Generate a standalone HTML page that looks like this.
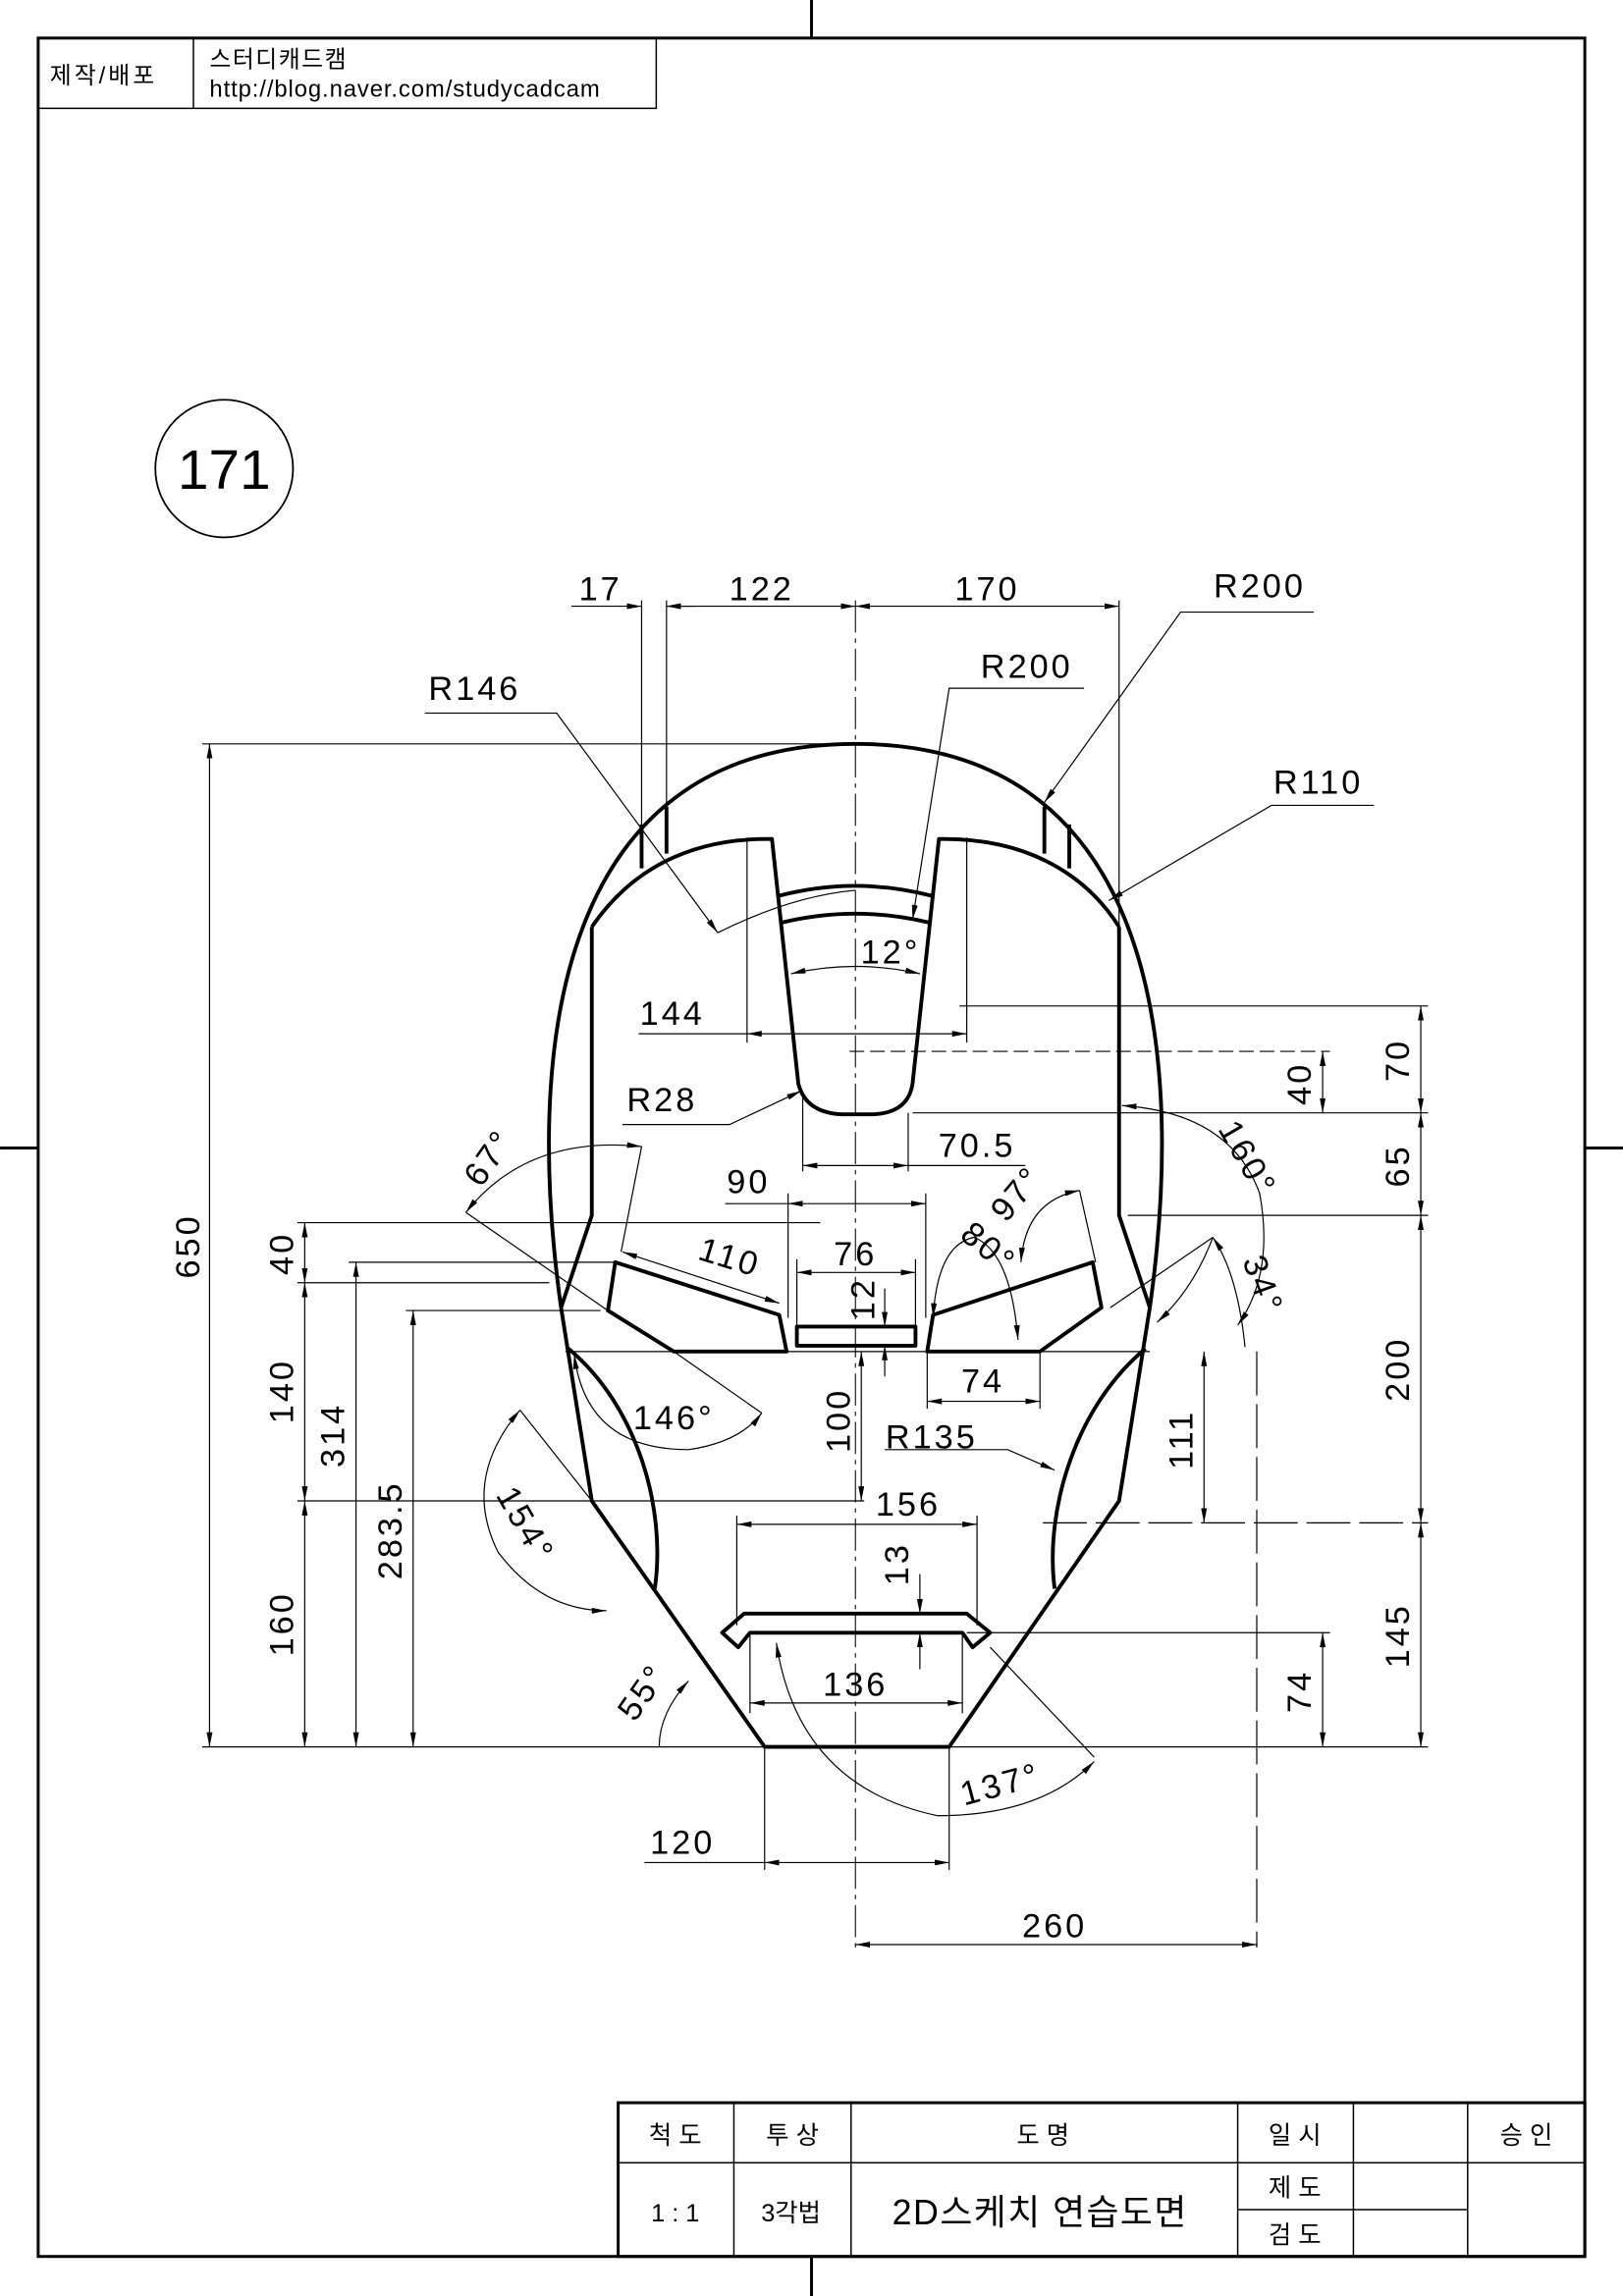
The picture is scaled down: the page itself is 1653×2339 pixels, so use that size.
<!DOCTYPE html>
<html><head><meta charset="utf-8"><style>
html,body{margin:0;padding:0;background:#fff}
svg{display:block}
text{font-family:"Liberation Sans","Noto Sans CJK KR",sans-serif;fill:#000}
</style></head><body>
<svg width="1653" height="2339" viewBox="0 0 1108 1568" xmlns="http://www.w3.org/2000/svg">
<defs>
<marker id="a" viewBox="0 0 10 4" refX="10" refY="2" markerWidth="10" markerHeight="4" orient="auto-start-reverse" markerUnits="userSpaceOnUse"><path d="M0,0 L10,2 L0,4z" fill="#000"/></marker>
</defs>
<g fill="none" stroke="#000">
<rect x="26" y="26" width="1056" height="1515" stroke-width="2"/>
<line x1="554" y1="0" x2="554" y2="26" stroke-width="2"/>
<line x1="554" y1="1541" x2="554" y2="1568" stroke-width="2"/>
<line x1="0" y1="784" x2="26" y2="784" stroke-width="2"/>
<line x1="1082" y1="784" x2="1108" y2="784" stroke-width="2"/>
<path d="M26,74 H448 V26 M132,26 V74" stroke-width="1"/>
<circle cx="153" cy="320" r="47" stroke-width="1.2"/>
<rect x="422" y="1436" width="660" height="105" stroke-width="2"/>
<path d="M422,1477 H1082 M501,1436 V1541 M581,1436 V1541 M845,1436 V1541 M924,1436 V1541 M1002,1436 V1541 M845,1509 H1002" stroke-width="1"/>

<line x1="584" y1="410" x2="584" y2="1332" stroke-width="0.7" stroke-dasharray="22,4,3,4"/>

<g stroke-width="2.6" stroke-linejoin="round">
<path d="M383,893 C356,700 388,508 584,508 C780,508 812,700 785,893"/>
<path d="M383,893 L404,1025 L522,1193 L648,1193 L764,1025 L785,893"/>
<path d="M404,633 V830 L383,893 M764,633 V830 L785,893"/>
<path d="M404,633 C430,595 470,572 527,573 L545,740 Q550,760 575,761 L596,761 Q620,760 623,740 L641,573 C698,572 740,595 764,633"/>
<path d="M438,593 V563 M455,583 V551 M713,551 V583 M730,563 V593"/>
<path d="M531,612 Q584,598 637,612 M534,630 Q584,618 634,630"/>
<path d="M388,921 C435,960 455,1030 447,1085 M782,921 C735,960 713,1030 720,1085"/>
<path d="M420,862 L532,898 L537,923 L460,923 L415,895 Z"/>
<path d="M746,862 L752,893 L710,923 L633,923 L637,898 Z"/>
<rect x="544" y="906" width="81" height="13"/>
<path d="M508,1102 L660,1102 L676,1115 L664,1125 L657,1115 L512,1115 L504,1125 L493,1115 Z"/>
</g>

<g stroke-width="0.8">
<line x1="386" y1="923" x2="785" y2="923"/>
<line x1="438" y1="410" x2="438" y2="563"/><line x1="455" y1="410" x2="455" y2="551"/>
<line x1="764" y1="410" x2="764" y2="633"/>
<line x1="390" y1="414" x2="438" y2="414" marker-end="url(#a)"/>
<line x1="475" y1="414" x2="455" y2="414" marker-end="url(#a)"/>
<line x1="455" y1="414" x2="584" y2="414" marker-start="url(#a)" marker-end="url(#a)"/>
<line x1="584" y1="414" x2="764" y2="414" marker-start="url(#a)" marker-end="url(#a)"/>
<path d="M897,418 H806 L713,548" marker-end="url(#a)"/>
<path d="M740,470 H648 L623,628" marker-end="url(#a)"/>
<path d="M290,487 H380 L490,637" marker-end="url(#a)"/>
<path d="M490,637 Q540,612 584,608"/>
<path d="M938,550 H868 L757,615" marker-end="url(#a)"/>
<line x1="510" y1="572" x2="510" y2="712"/><line x1="660" y1="572" x2="660" y2="712"/>
<line x1="436" y1="706" x2="510" y2="706"/>
<line x1="510" y1="706" x2="660" y2="706" marker-start="url(#a)" marker-end="url(#a)"/>
<path d="M540,665 Q584,655 628,665" marker-start="url(#a)" marker-end="url(#a)"/>
<line x1="655" y1="687" x2="975" y2="687"/>
<line x1="580" y1="718" x2="908" y2="718" stroke-dasharray="10,4"/>
<line x1="623" y1="760" x2="975" y2="760"/>
<line x1="770" y1="830" x2="975" y2="830"/>
<line x1="712" y1="1040" x2="975" y2="1040" stroke-dasharray="30,6"/>
<line x1="660" y1="1115" x2="908" y2="1115"/>
<line x1="648" y1="1193" x2="975" y2="1193"/>
<line x1="903" y1="718" x2="903" y2="760" marker-start="url(#a)" marker-end="url(#a)"/>
<line x1="970" y1="687" x2="970" y2="760" marker-start="url(#a)" marker-end="url(#a)"/>
<line x1="970" y1="760" x2="970" y2="830" marker-start="url(#a)" marker-end="url(#a)"/>
<line x1="970" y1="830" x2="970" y2="1040" marker-start="url(#a)" marker-end="url(#a)"/>
<line x1="970" y1="1040" x2="970" y2="1193" marker-start="url(#a)" marker-end="url(#a)"/>
<line x1="903" y1="1115" x2="903" y2="1193" marker-start="url(#a)" marker-end="url(#a)"/>
<line x1="822" y1="923" x2="822" y2="1040" marker-start="url(#a)" marker-end="url(#a)"/>
<line x1="858" y1="923" x2="858" y2="1330" stroke-dasharray="30,6"/>
<line x1="138" y1="508" x2="584" y2="508"/>
<line x1="203" y1="835" x2="560" y2="835"/>
<line x1="203" y1="876" x2="375" y2="876"/>
<line x1="238" y1="862" x2="420" y2="862"/>
<line x1="277" y1="895" x2="410" y2="895"/>
<line x1="203" y1="1025" x2="590" y2="1025"/>
<line x1="138" y1="1193" x2="522" y2="1193"/>
<line x1="143" y1="508" x2="143" y2="1193" marker-start="url(#a)" marker-end="url(#a)"/>
<line x1="208" y1="835" x2="208" y2="876" marker-start="url(#a)" marker-end="url(#a)"/>
<line x1="208" y1="876" x2="208" y2="1025" marker-start="url(#a)" marker-end="url(#a)"/>
<line x1="208" y1="1025" x2="208" y2="1193" marker-start="url(#a)" marker-end="url(#a)"/>
<line x1="243" y1="862" x2="243" y2="1193" marker-start="url(#a)" marker-end="url(#a)"/>
<line x1="282" y1="895" x2="282" y2="1193" marker-start="url(#a)" marker-end="url(#a)"/>
<path d="M425,768 H498 L547,745" marker-end="url(#a)"/>
<line x1="548" y1="750" x2="548" y2="800"/><line x1="620" y1="760" x2="620" y2="800"/>
<line x1="548" y1="796" x2="620" y2="796" marker-start="url(#a)" marker-end="url(#a)"/>
<line x1="620" y1="796" x2="700" y2="796"/>
<line x1="538" y1="815" x2="538" y2="900"/><line x1="632" y1="815" x2="632" y2="900"/>
<line x1="538" y1="822" x2="632" y2="822" marker-start="url(#a)" marker-end="url(#a)"/>
<line x1="495" y1="822" x2="538" y2="822"/>
<line x1="544" y1="869" x2="625" y2="869" marker-start="url(#a)" marker-end="url(#a)"/>
<line x1="544" y1="860" x2="544" y2="906"/><line x1="625" y1="860" x2="625" y2="906"/>
<line x1="604" y1="880" x2="604" y2="906" marker-end="url(#a)"/>
<line x1="604" y1="940" x2="604" y2="919" marker-end="url(#a)"/>
<line x1="588" y1="923" x2="588" y2="1025" marker-start="url(#a)" marker-end="url(#a)"/>
<line x1="633" y1="923" x2="633" y2="962"/><line x1="710" y1="923" x2="710" y2="962"/>
<line x1="633" y1="957" x2="710" y2="957" marker-start="url(#a)" marker-end="url(#a)"/>
<path d="M604,990 H688 L720,1004" marker-end="url(#a)"/>
<line x1="503" y1="1035" x2="503" y2="1110"/><line x1="667" y1="1035" x2="667" y2="1110"/>
<line x1="503" y1="1041" x2="667" y2="1041" marker-start="url(#a)" marker-end="url(#a)"/>
<line x1="628" y1="1075" x2="628" y2="1102" marker-end="url(#a)"/>
<line x1="628" y1="1140" x2="628" y2="1115" marker-end="url(#a)"/>
<line x1="512" y1="1115" x2="512" y2="1170"/><line x1="657" y1="1115" x2="657" y2="1170"/>
<line x1="512" y1="1163" x2="657" y2="1163" marker-start="url(#a)" marker-end="url(#a)"/>
<line x1="522" y1="1193" x2="522" y2="1277"/><line x1="648" y1="1193" x2="648" y2="1277"/>
<line x1="440" y1="1272" x2="522" y2="1272"/>
<line x1="522" y1="1272" x2="648" y2="1272" marker-start="url(#a)" marker-end="url(#a)"/>
<line x1="584" y1="1328" x2="858" y2="1328" marker-start="url(#a)" marker-end="url(#a)"/>
<path d="M318,828 Q360,775 438,783" marker-start="url(#a)" marker-end="url(#a)"/>
<line x1="438" y1="783" x2="424" y2="855"/>
<line x1="318" y1="828" x2="415" y2="895"/>
<line x1="425" y1="855" x2="532" y2="890" marker-start="url(#a)" marker-end="url(#a)"/>
<line x1="460" y1="923" x2="520" y2="965"/>
<path d="M392,925 Q400,990 470,990 Q505,985 520,965" marker-start="url(#a)" marker-end="url(#a)"/>
<path d="M355,963 Q315,1010 340,1060 Q370,1100 414,1100" marker-start="url(#a)" marker-end="url(#a)"/>
<line x1="355" y1="963" x2="404" y2="1025"/>
<path d="M450,1193 Q450,1170 470,1148" marker-end="url(#a)"/>
<path d="M530,1122 Q545,1220 640,1240 Q710,1240 747,1203" marker-start="url(#a)" marker-end="url(#a)"/>
<line x1="676" y1="1125" x2="747" y2="1200"/>
<path d="M637,900 Q640,850 665,845 Q690,855 695,915" marker-start="url(#a)" marker-end="url(#a)"/>
<path d="M697,862 Q700,820 737,813" marker-start="url(#a)" marker-end="url(#a)"/>
<line x1="737" y1="813" x2="748" y2="862"/>
<path d="M766,755 Q840,760 860,815 Q870,870 845,905" marker-start="url(#a)" marker-end="url(#a)"/>
<line x1="758" y1="893" x2="828" y2="845"/>
<path d="M828,845 Q845,870 850,920" marker-start="url(#a)"/>
<path d="M790,903 Q815,880 828,845" marker-start="url(#a)"/>
</g>
</g>

<g font-size="16">
<text x="34" y="57" letter-spacing="2">제작/배포</text>
<text x="143" y="46" letter-spacing="1">스터디캐드캠</text>
<text x="143" y="66" letter-spacing="0.6">http://blog.naver.com/studycadcam</text>
</g>
<text x="153" y="334" font-size="38" text-anchor="middle">171</text>
<g font-size="17" text-anchor="middle">
<text x="461" y="1464">척  도</text><text x="541" y="1464">투  상</text>
<text x="712" y="1464">도       명</text><text x="884" y="1464">일  시</text>
<text x="1042" y="1464">승  인</text><text x="884" y="1500">제  도</text>
<text x="884" y="1532">검  도</text><text x="461" y="1517">1 : 1</text>
<text x="540" y="1517">3각법</text>
</g>
<text x="710" y="1519" font-size="24" text-anchor="middle" letter-spacing="1">2D스케치 연습도면</text>

<g font-size="23" text-anchor="middle" letter-spacing="2">
<text x="410" y="410">17</text>
<text x="520" y="410">122</text>
<text x="674" y="410">170</text>
<text x="860" y="408">R200</text>
<text x="701" y="463">R200</text>
<text x="324" y="478">R146</text>
<text x="900" y="542">R110</text>
<text x="608" y="658">12°</text>
<text x="459" y="700">144</text>
<text x="452" y="759">R28</text>
<text x="667" y="790">70.5</text>
<text x="511" y="815">90</text>
<text x="584" y="864">76</text>
<text x="671" y="951">74</text>
<text x="636" y="989">R135</text>
<text x="620" y="1035">156</text>
<text x="584" y="1158">136</text>
<text x="466" y="1266">120</text>
<text x="720" y="1323">260</text>
<text transform="translate(597,887) rotate(-90)">12</text>
<text transform="translate(580,970) rotate(-90)">100</text>
<text transform="translate(620,1068) rotate(-90)">13</text>
<text transform="translate(895,740) rotate(-90)">40</text>
<text transform="translate(962,724) rotate(-90)">70</text>
<text transform="translate(962,796) rotate(-90)">65</text>
<text transform="translate(962,935) rotate(-90)">200</text>
<text transform="translate(962,1117) rotate(-90)">145</text>
<text transform="translate(895,1155) rotate(-90)">74</text>
<text transform="translate(814,983) rotate(-90)">111</text>
<text transform="translate(136,851) rotate(-90)">650</text>
<text transform="translate(200,856) rotate(-90)">40</text>
<text transform="translate(200,950) rotate(-90)">140</text>
<text transform="translate(200,1109) rotate(-90)">160</text>
<text transform="translate(235,980) rotate(-90)">314</text>
<text transform="translate(274,1045) rotate(-90)">283.5</text>
<text transform="translate(340,795) rotate(-55)">67°</text>
<text transform="translate(496,866) rotate(17)">110</text>
<text x="460" y="976">146°</text>
<text transform="translate(352,1045) rotate(60)">154°</text>
<text transform="translate(445,1160) rotate(-55)">55°</text>
<text transform="translate(685,1226) rotate(-15)">137°</text>
<text transform="translate(670,858) rotate(40)">80°</text>
<text transform="translate(700,820) rotate(-50)">97°</text>
<text transform="translate(845,795) rotate(60)">160°</text>
<text transform="translate(855,880) rotate(70)">34°</text>
</g>
</svg>
</body></html>
